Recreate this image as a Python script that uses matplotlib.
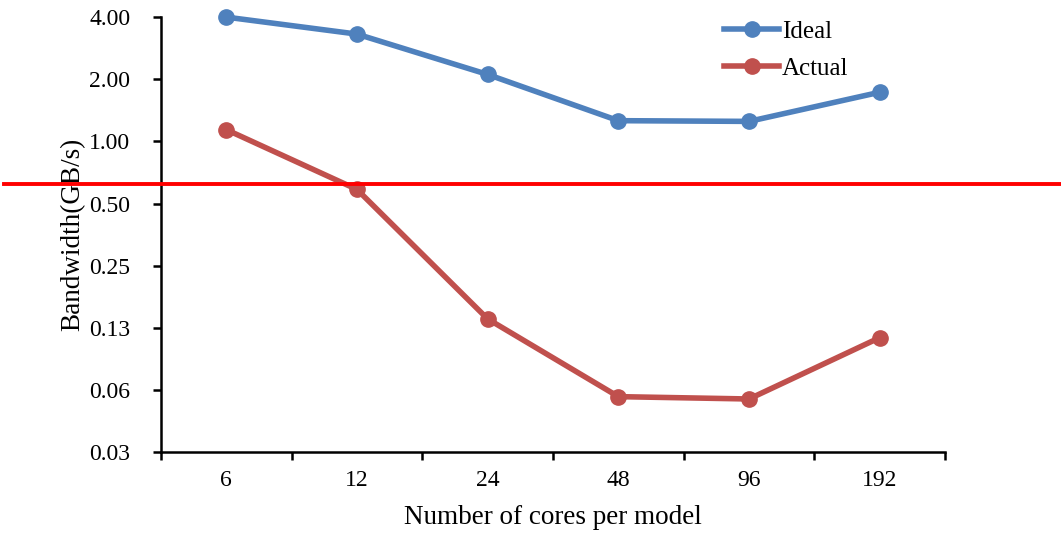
import matplotlib
matplotlib.use("Agg")
import matplotlib.pyplot as plt
from matplotlib.ticker import FixedLocator, NullFormatter

plt.rcParams['font.family'] = ['Liberation Serif', 'DejaVu Serif']

cores = ['6', '12', '24', '48', '96', '192']
ideal = [4.0, 3.31, 2.11, 1.26, 1.25, 1.73]
actual = [1.14, 0.585, 0.138, 0.058, 0.0565, 0.112]
y_ticks = [0.03125, 0.0625, 0.125, 0.25, 0.5, 1, 2, 4]
y_tick_labels = ['0.03', '0.06', '0.13', '0.25', '0.50', '1.00', '2.00', '4.00']
threshold = 0.625

blue = '#4F81BD'
red = '#C0504D'

fig = plt.figure(figsize=(10.61, 5.35), dpi=100)
ax = fig.add_axes([0.1517, 0.155, 0.739, 0.813])

x = list(range(len(cores)))
ax.plot(x, ideal, color=blue, lw=4, marker='o', ms=11, label='Ideal', clip_on=False)
ax.plot(x, actual, color=red, lw=4, marker='o', ms=11, label='Actual', clip_on=False)

# red reference line drawn across the whole picture
ax.axhline(threshold, xmin=-0.2, xmax=1.17, color='#FF0000', lw=2.8, clip_on=False, zorder=5)

ax.set_yscale('log', base=2)
ax.set_ylim(0.03125, 4)
ax.yaxis.set_major_locator(FixedLocator(y_ticks))
ax.set_yticklabels(y_tick_labels)
ax.yaxis.set_minor_formatter(NullFormatter())
ax.yaxis.set_minor_locator(FixedLocator([]))

ax.set_xlim(-0.5, len(cores) - 0.5)
ax.set_xticks(x)
ax.set_xticklabels(cores)
ax.set_xticks([i - 0.5 for i in range(len(cores) + 1)], minor=True)
ax.tick_params(axis='x', which='major', length=0, pad=13, labelsize=17)
ax.tick_params(axis='x', which='minor', length=6, width=1.8, direction='out')
ax.tick_params(axis='y', which='major', length=6, width=1.8, direction='out', pad=16, labelsize=17)

for s in ['top', 'right']:
    ax.spines[s].set_visible(False)
for s in ['left', 'bottom']:
    ax.spines[s].set_linewidth(1.8)

ax.set_xlabel('Number of cores per model', fontsize=19.5, labelpad=10)
ax.set_ylabel('Bandwidth(GB/s)', fontsize=19.5, labelpad=3)

ax.legend(loc='upper left', bbox_to_anchor=(0.69, 1.045), frameon=False, fontsize=18,
          handlelength=2.2, handletextpad=0.1, labelspacing=0.6)

fig.savefig('out.png', dpi=100)
